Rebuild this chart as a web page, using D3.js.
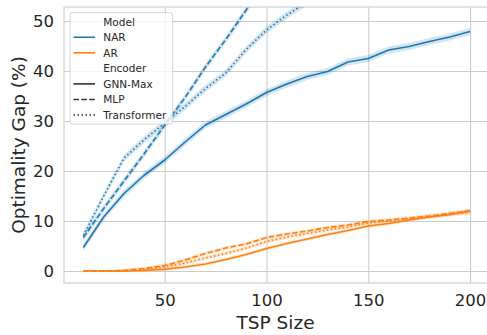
<!DOCTYPE html>
<html>
<head>
<meta charset="utf-8">
<script src="https://cdn.jsdelivr.net/npm/d3@7"></script>
<style>
  body { margin: 0; background: white; }
</style>
</head>
<body>
<div id="container"></div>
<script>
// values (TSP size vs optimality gap %)
let sizes = [10, 20, 30, 40, 50, 60, 70, 80, 90, 100, 110, 120, 130, 140, 150, 160, 170, 180, 190, 200];

let narGnn = [4.7, 10.8, 15.5, 19.2, 22.2, 25.8, 29.2, 31.3, 33.4, 35.7, 37.4, 38.9, 39.9, 41.8, 42.5, 44.2, 44.9, 45.9, 46.8, 47.9];
let narMlp = [6.7, 12.5, 18.0, 23.5, 29.2, 34.7, 40.8, 46.3, 52.2, 57.8];
let narTrf = [7.1, 15.0, 22.6, 26.3, 29.6, 32.9, 36.5, 39.6, 44.3, 48.2, 51.2, 53.8];

let arGnn = [0, 0, 0, 0.1, 0.35, 0.8, 1.4, 2.3, 3.3, 4.5, 5.5, 6.4, 7.3, 8.1, 9.0, 9.5, 10.2, 10.8, 11.3, 12.0];
let arMlp = [0, 0, 0.1, 0.5, 1.1, 2.2, 3.5, 4.6, 5.4, 6.7, 7.4, 8.0, 8.7, 9.2, 9.9, 10.2, 10.6, 11.0, 11.5, 12.1];
let arTrf = [0, 0, 0.05, 0.3, 0.8, 1.6, 2.6, 3.5, 4.6, 5.9, 6.8, 7.5, 8.2, 8.8, 9.6, 10.0, 10.4, 10.9, 11.3, 11.7];

// half width of the shaded confidence band
let ciNar = 0.7;
let ciAr = 0.35;

let yTicks = [0, 10, 20, 30, 40, 50];
let xTicks = [50, 100, 150, 200];

let models = ["NAR", "AR"];
let modelColors = ["#1f77b4", "#ff7f0e"];
let encoders = ["GNN-Max", "MLP", "Transformer"];
let dashes = ["none", "5.5,2.4", "1.5,2.5"];

let w = 487;
let h = 335;
let padLeft = 64;
let padTop = 7;
let padRight = 489.4;
let padBottom = 283;

let font = "DejaVu Sans, sans-serif";
let textColor = "#262626";
let gridColor = "#cccccc";

let viz = d3.select("#container")
  .append("svg")
    .attr("width", w)
    .attr("height", h)
    .style("background-color", "white")
;

let xScale = d3.scaleLinear().domain([0.5, 209.5]).range([padLeft, padRight]);
let yScale = d3.scaleLinear().domain([-2.4, 52.8]).range([padBottom, padTop]);

// grid
let xAxis = d3.axisBottom(xScale).tickValues(xTicks).tickSize(-(padBottom - padTop)).tickPadding(11);
let xAxisGroup = viz.append("g")
  .attr("transform", "translate(0, " + padBottom + ")")
  .call(xAxis);

let yAxis = d3.axisLeft(yScale).tickValues(yTicks).tickSize(-(padRight - padLeft)).tickPadding(10);
let yAxisGroup = viz.append("g")
  .attr("transform", "translate(" + padLeft + ", 0)")
  .call(yAxis);

viz.selectAll(".domain").remove();
viz.selectAll(".tick line")
  .attr("stroke", gridColor)
  .attr("stroke-width", 1.1);
viz.selectAll(".tick text")
  .attr("fill", textColor)
  .attr("font-family", font)
  .attr("font-size", 16.5);

// spines
viz.append("rect")
  .attr("x", padLeft)
  .attr("y", padTop)
  .attr("width", padRight - padLeft)
  .attr("height", padBottom - padTop)
  .attr("fill", "none")
  .attr("stroke", gridColor)
  .attr("stroke-width", 1.1);

viz.append("clipPath").attr("id", "plotClip")
  .append("rect")
  .attr("x", padLeft)
  .attr("y", padTop)
  .attr("width", padRight - padLeft)
  .attr("height", padBottom - padTop);

let plot = viz.append("g").attr("clip-path", "url(#plotClip)");

let series = [
  { values: narGnn, model: 0, enc: 0, ci: ciNar },
  { values: narMlp, model: 0, enc: 1, ci: ciNar },
  { values: narTrf, model: 0, enc: 2, ci: ciNar },
  { values: arGnn, model: 1, enc: 0, ci: ciAr },
  { values: arMlp, model: 1, enc: 1, ci: ciAr },
  { values: arTrf, model: 1, enc: 2, ci: ciAr }
];

let area = d3.area()
  .x(function(d) { return xScale(d.x); })
  .y0(function(d) { return yScale(d.lo); })
  .y1(function(d) { return yScale(d.hi); });

let line = d3.line()
  .x(function(d) { return xScale(d.x); })
  .y(function(d) { return yScale(d.y); });

series.forEach(function(s) {
  let pts = s.values.map(function(v, i) {
    let lo = Math.max(0, v - s.ci);
    return { x: sizes[i], y: v, lo: v < 0.05 ? v : lo, hi: v < 0.05 ? v : v + s.ci };
  });
  plot.append("path")
    .datum(pts)
    .attr("d", area)
    .attr("fill", modelColors[s.model])
    .attr("opacity", 0.2);
});

series.forEach(function(s) {
  let pts = s.values.map(function(v, i) { return { x: sizes[i], y: v }; });
  plot.append("path")
    .datum(pts)
    .attr("d", line)
    .attr("fill", "none")
    .attr("stroke", modelColors[s.model])
    .attr("stroke-width", 1.6)
    .attr("stroke-linejoin", "round")
    .attr("stroke-dasharray", dashes[s.enc]);
});

// axis labels
viz.append("text")
  .text("TSP Size")
  .attr("x", (padLeft + 487) / 2)
  .attr("y", 329)
  .attr("text-anchor", "middle")
  .attr("font-family", font)
  .attr("font-size", 18.5)
  .attr("fill", textColor);

viz.append("text")
  .text("Optimality Gap (%)")
  .attr("transform", "translate(25, " + ((padTop + padBottom) / 2) + ") rotate(-90)")
  .attr("text-anchor", "middle")
  .attr("font-family", font)
  .attr("font-size", 18.5)
  .attr("fill", textColor);

// legend
let legend = viz.append("g");
legend.append("rect")
  .attr("x", 70)
  .attr("y", 12.7)
  .attr("width", 102.7)
  .attr("height", 111.3)
  .attr("rx", 2.5)
  .attr("fill", "white")
  .attr("fill-opacity", 0.8)
  .attr("stroke", gridColor)
  .attr("stroke-width", 0.8);

let rows = [
  { label: "Model", color: null },
  { label: models[0], color: modelColors[0], dash: "none" },
  { label: models[1], color: modelColors[1], dash: "none" },
  { label: "Encoder", color: null },
  { label: encoders[0], color: "#333333", dash: dashes[0] },
  { label: encoders[1], color: "#333333", dash: dashes[1] },
  { label: encoders[2], color: "#333333", dash: dashes[2] }
];

for (let i = 0; i < rows.length; i++) {
  let cy = 21.7 + i * 15.55;
  if (rows[i].color) {
    legend.append("line")
      .attr("x1", 73.5)
      .attr("x2", 95)
      .attr("y1", cy)
      .attr("y2", cy)
      .attr("stroke", rows[i].color)
      .attr("stroke-width", 1.6)
      .attr("stroke-dasharray", rows[i].dash);
  }
  legend.append("text")
    .text(rows[i].label)
    .attr("x", 103.3)
    .attr("y", cy + 3.8)
    .attr("font-family", font)
    .attr("font-size", 10.5)
    .attr("fill", textColor);
}
</script>
</body>
</html>
